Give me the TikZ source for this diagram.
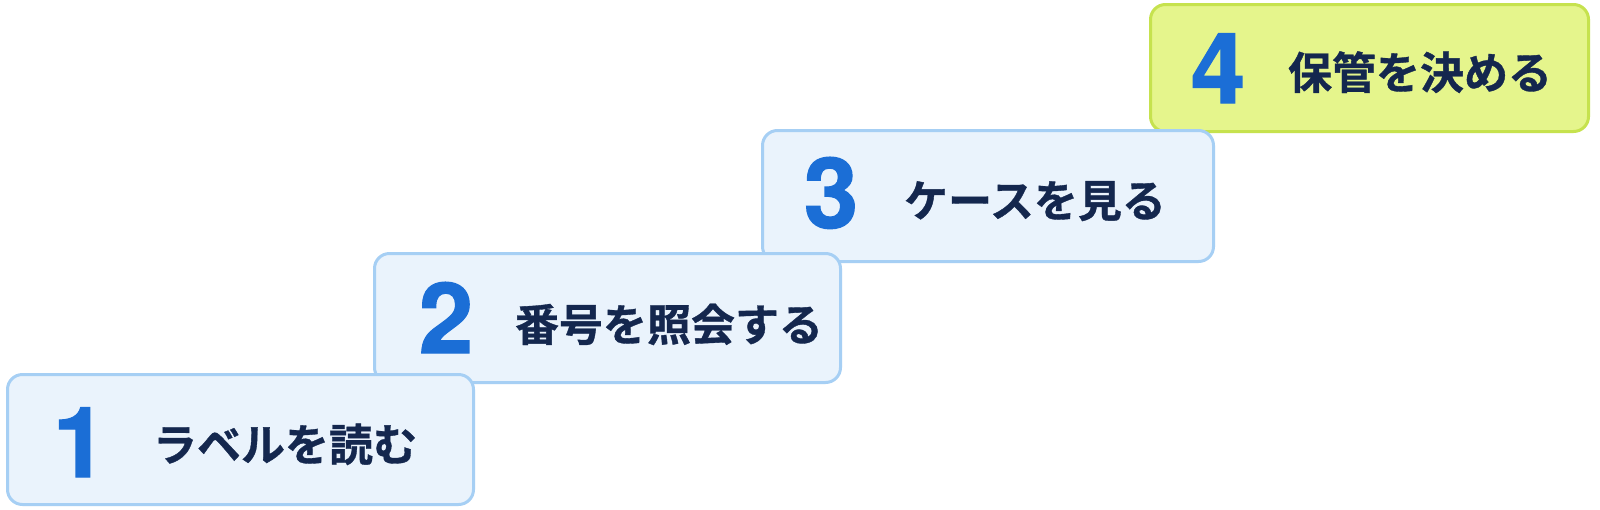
\documentclass[tikz,border=0pt]{standalone}
\usepackage{fontspec}
\newfontfamily\jpfont[FakeBold=0.8]{Noto Sans CJK JP Bold}
\newfontfamily\numfont[BoldFeatures={FakeBold=1.2}]{TeX Gyre Heros}
\definecolor{bluefill}{HTML}{EAF3FC}
\definecolor{blueline}{HTML}{A6CFF4}
\definecolor{greenfill}{HTML}{E5F58C}
\definecolor{greenline}{HTML}{C6E24E}
\definecolor{numblue}{HTML}{1B6ED6}
\definecolor{navy}{HTML}{14274E}
\tikzset{
  stepbox/.style={draw=blueline, fill=bluefill, line width=3pt, rounded corners=15pt, inner sep=0pt},
  greenbox/.style={stepbox, draw=greenline, fill=greenfill},
  numlabel/.style={anchor=base, inner sep=0pt, text=numblue, font=\numfont\bfseries\fontsize{98}{98}\selectfont},
  steptext/.style={anchor=base, inner sep=0pt, text=navy, font=\jpfont\fontsize{44}{44}\selectfont},
}
\begin{document}
\begin{tikzpicture}[x=1pt, y=-1pt]
\useasboundingbox[fill=white] (0,0) rectangle (1600,509);
% box 4
\node[greenbox, minimum width=438pt, minimum height=127pt] (b4) at (1369.5,68) {};
\node[numlabel] (n4) at (1218,103) {4};
\node[steptext] (t4) at (1420,89) {保管を決める};
% box 3
\node[stepbox, minimum width=451pt, minimum height=131pt] (b3) at (988,196) {};
\node[numlabel] (n3) at (831,228) {3};
\node[steptext] (t3) at (1035,217) {ケースを見る};
% box 2
\node[stepbox, minimum width=466pt, minimum height=129pt] (b2) at (607.5,318) {};
\node[numlabel] (n2) at (446,353) {2};
\node[steptext] (t2) at (669,341) {番号を照会する};
% box 1
\node[stepbox, minimum width=466pt, minimum height=130pt] (b1) at (240.5,439.5) {};
\node[numlabel] (n1) at (80,477) {1};
\node[steptext] (t1) at (285,461) {ラベルを読む};
\end{tikzpicture}
\end{document}
